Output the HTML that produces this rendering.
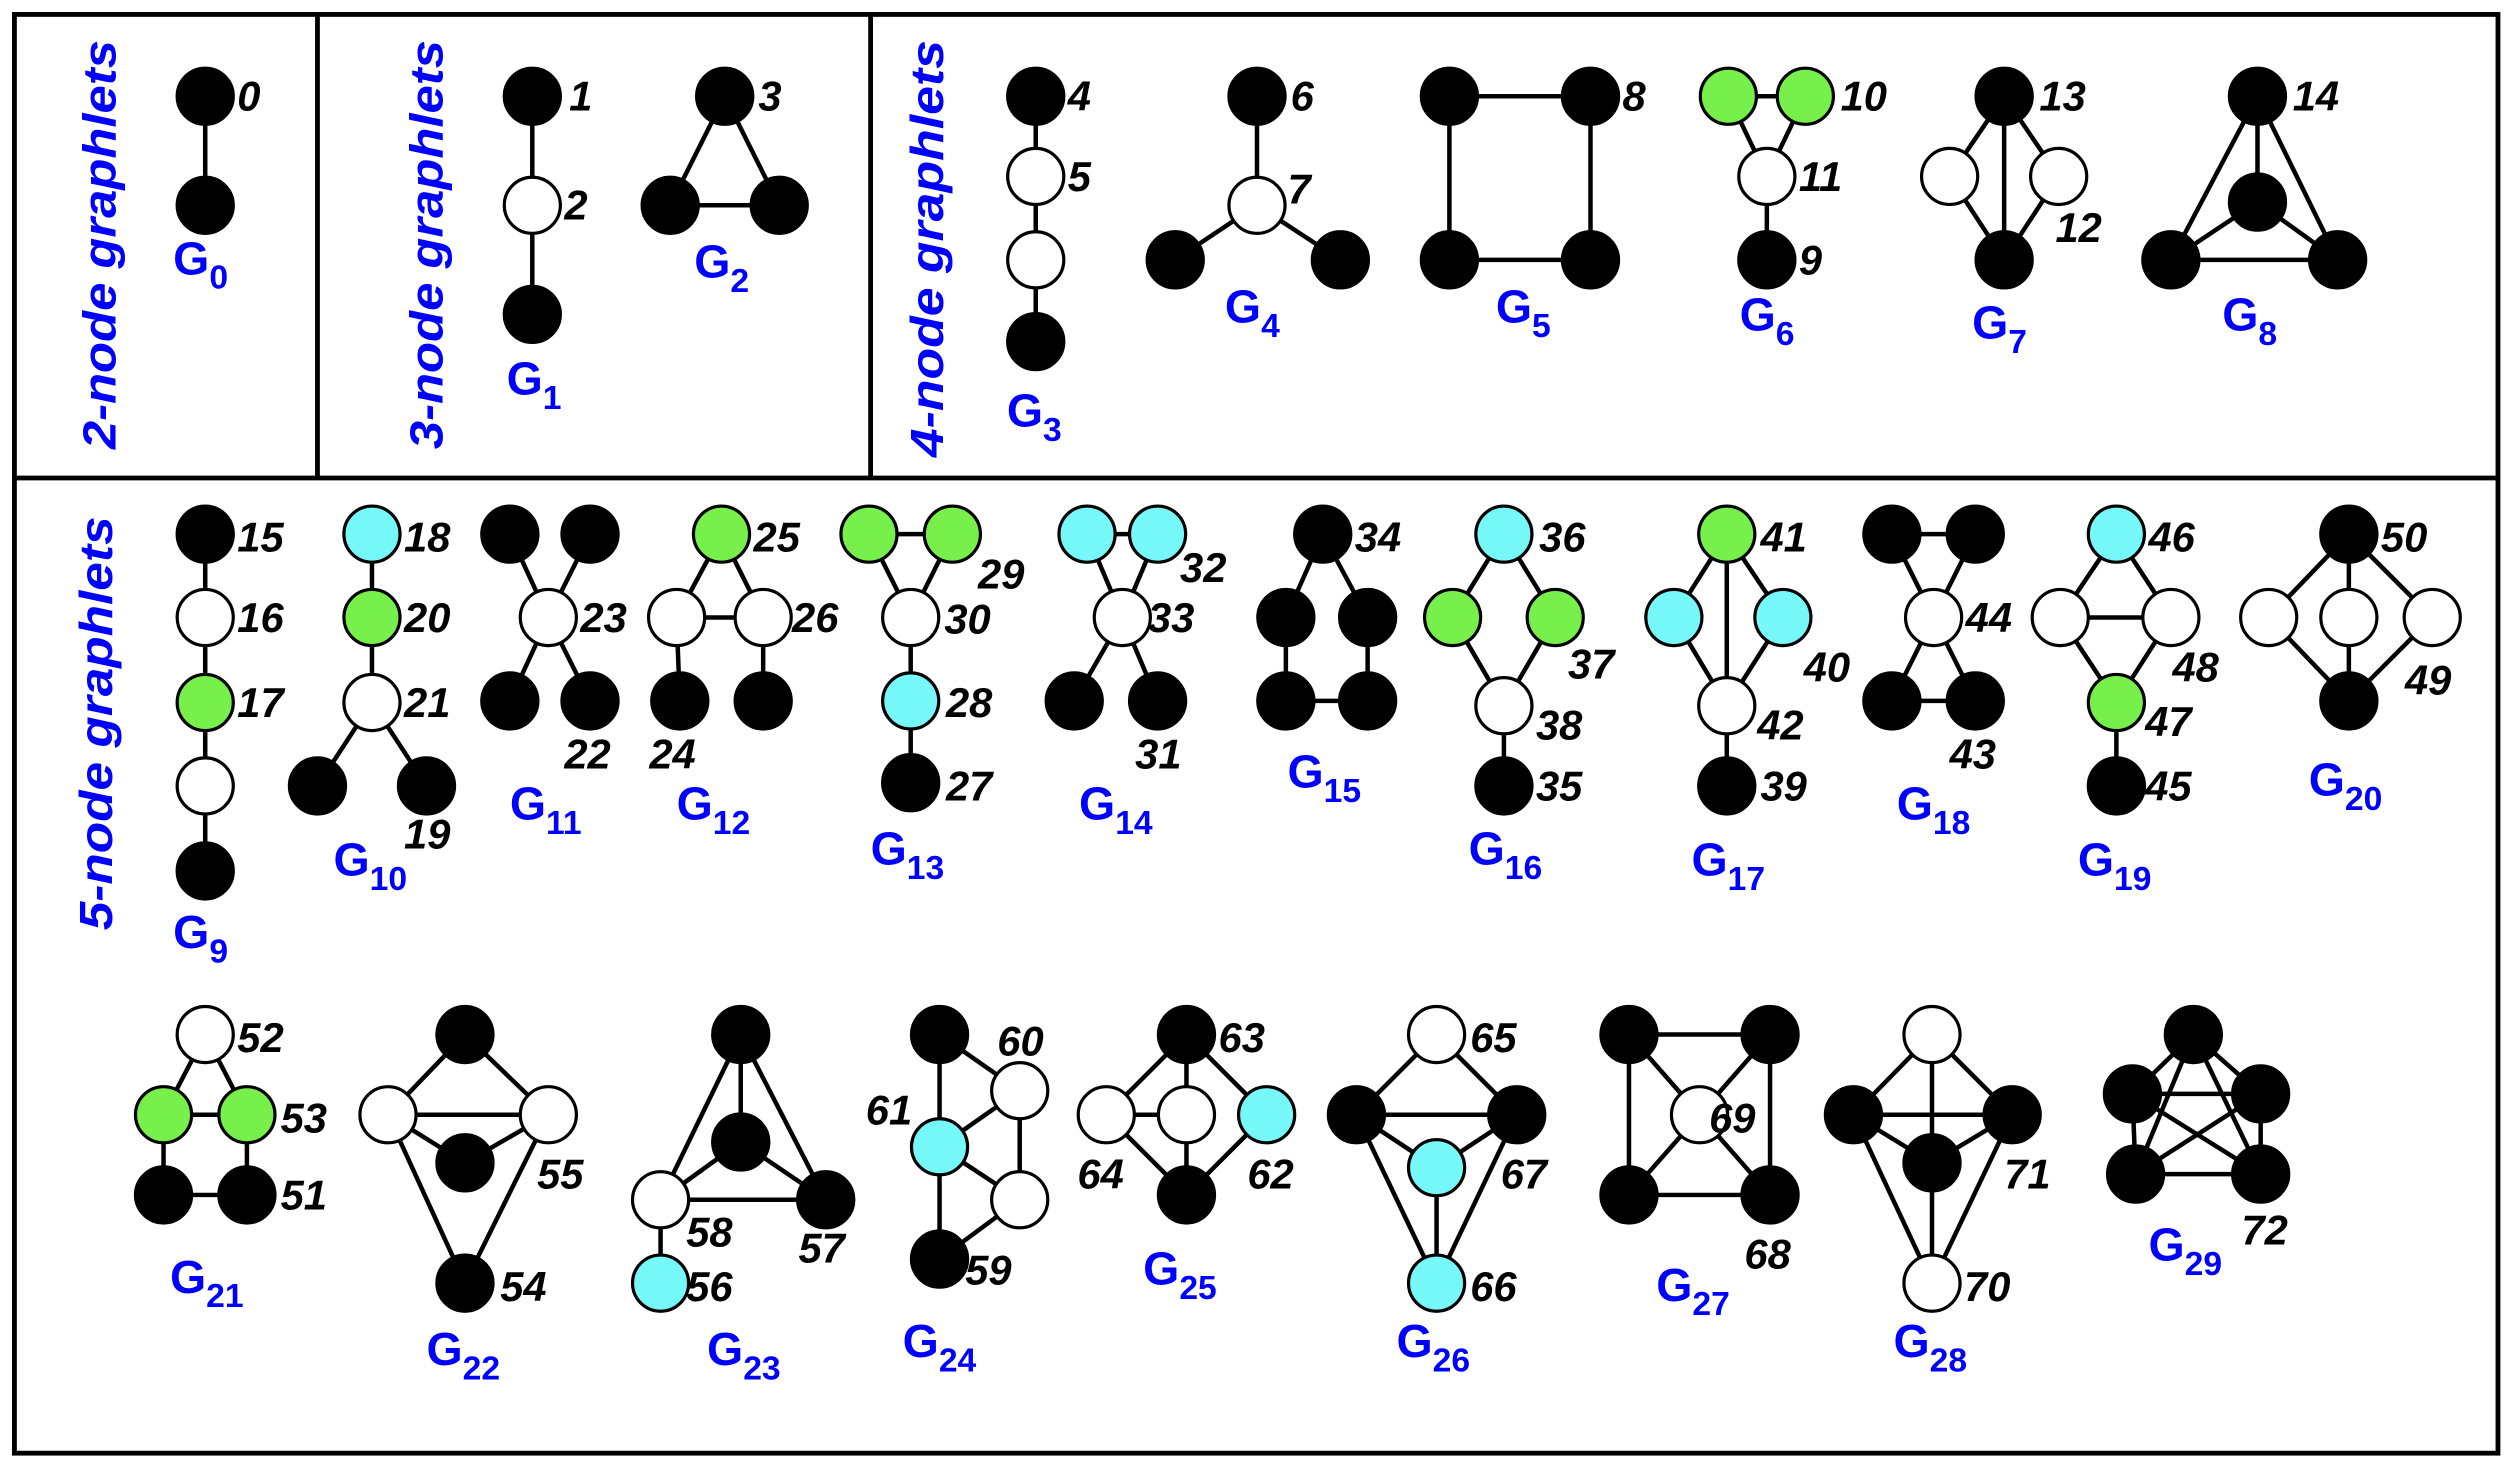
<!DOCTYPE html>
<html><head><meta charset="utf-8">
<style>
html,body{margin:0;padding:0;background:#fff;}
svg{display:block;}
.lbl{font-family:"Liberation Sans",sans-serif;font-weight:bold;font-style:italic;font-size:26px;fill:#000;}
.gl{font-family:"Liberation Sans",sans-serif;font-weight:bold;font-size:29px;fill:#0000ff;}
.sec{font-family:"Liberation Sans",sans-serif;font-weight:bold;font-style:italic;font-size:29px;fill:#0000ff;}
</style></head>
<body>
<svg id="fig" width="2514" height="1466" viewBox="0 0 1568 914" preserveAspectRatio="none" xmlns="http://www.w3.org/2000/svg">
<rect x="9" y="9" width="1549" height="897" fill="none" stroke="#000" stroke-width="3"/>
<line x1="9" y1="298" x2="1558" y2="298" stroke="#000" stroke-width="3"/>
<line x1="198" y1="9" x2="198" y2="298" stroke="#000" stroke-width="3"/>
<line x1="543" y1="9" x2="543" y2="298" stroke="#000" stroke-width="3"/>
<text class="sec" transform="translate(72,280) rotate(-90)" textLength="255" lengthAdjust="spacingAndGlyphs">2-node graphlets</text>
<text class="sec" transform="translate(276,280) rotate(-90)" textLength="255" lengthAdjust="spacingAndGlyphs">3-node graphlets</text>
<text class="sec" transform="translate(588,285) rotate(-90)" textLength="260" lengthAdjust="spacingAndGlyphs">4-node graphlets</text>
<text class="sec" transform="translate(70,580) rotate(-90)" textLength="258" lengthAdjust="spacingAndGlyphs">5-node graphlets</text>
<g id="graphs"></g>
</svg>
<script>
// node: [x, y, color]  k=black w=white g=green c=cyan
const graphletNodes = [
 [[128,60,'k'],[128,128,'k']],
 [[332,60,'k'],[332,128,'w'],[332,196,'k']],
 [[452,60,'k'],[418,128,'k'],[486,128,'k']],
 [[646,60,'k'],[646,110,'w'],[646,162,'w'],[646,213,'k']],
 [[784,60,'k'],[784,128,'w'],[733,162,'k'],[836,162,'k']],
 [[904,60,'k'],[992,60,'k'],[992,162,'k'],[904,162,'k']],
 [[1078,60,'g'],[1126,60,'g'],[1102,110,'w'],[1102,162,'k']],
 [[1250,60,'k'],[1216,110,'w'],[1284,110,'w'],[1250,162,'k']],
 [[1408,60,'k'],[1408,126,'k'],[1354,162,'k'],[1458,162,'k']],
 [[128,333,'k'],[128,385,'w'],[128,438,'g'],[128,490,'w'],[128,543,'k']],
 [[232,333,'c'],[232,385,'g'],[232,438,'w'],[198,490,'k'],[266,490,'k']],
 [[318,333,'k'],[368,333,'k'],[342,385,'w'],[318,437,'k'],[368,437,'k']],
 [[450,333,'g'],[422,385,'w'],[476,385,'w'],[424,437,'k'],[476,437,'k']],
 [[542,333,'g'],[594,333,'g'],[568,385,'w'],[568,437,'c'],[568,488,'k']],
 [[678,333,'c'],[722,333,'c'],[700,385,'w'],[670,437,'k'],[722,437,'k']],
 [[825,333,'k'],[802,385,'k'],[853,385,'k'],[802,437,'k'],[853,437,'k']],
 [[938,333,'c'],[906,385,'g'],[970,385,'g'],[938,440,'w'],[938,490,'k']],
 [[1077,333,'g'],[1044,385,'c'],[1112,385,'c'],[1077,440,'w'],[1077,490,'k']],
 [[1180,333,'k'],[1232,333,'k'],[1206,385,'w'],[1180,437,'k'],[1232,437,'k']],
 [[1320,333,'c'],[1285,385,'w'],[1354,385,'w'],[1320,438,'g'],[1320,490,'k']],
 [[1465,333,'k'],[1415,385,'w'],[1465,385,'w'],[1517,385,'w'],[1465,437,'k']],
 [[128,645,'w'],[102,695,'g'],[154,695,'g'],[102,745,'k'],[154,745,'k']],
 [[290,645,'k'],[242,695,'w'],[342,695,'w'],[290,725,'k'],[290,800,'k']],
 [[462,645,'k'],[462,712,'k'],[515,748,'k'],[412,748,'w'],[412,800,'c']],
 [[586,645,'k'],[636,680,'w'],[586,715,'c'],[636,748,'w'],[586,785,'k']],
 [[740,645,'k'],[690,695,'w'],[740,695,'w'],[790,695,'c'],[740,745,'k']],
 [[896,645,'w'],[846,695,'k'],[946,695,'k'],[896,728,'c'],[896,800,'c']],
 [[1016,645,'k'],[1104,645,'k'],[1060,695,'w'],[1016,745,'k'],[1104,745,'k']],
 [[1205,645,'w'],[1156,695,'k'],[1255,695,'k'],[1205,725,'k'],[1205,800,'w']],
 [[1368,645,'k'],[1330,682,'k'],[1410,682,'k'],[1332,732,'k'],[1410,732,'k']]
];
const graphletEdges = [
 [[0,1]],
 [[0,1],[1,2]],
 [[0,1],[0,2],[1,2]],
 [[0,1],[1,2],[2,3]],
 [[0,1],[1,2],[1,3]],
 [[0,1],[1,2],[2,3],[3,0]],
 [[0,1],[0,2],[1,2],[2,3]],
 [[0,1],[0,2],[0,3],[1,3],[2,3]],
 [[0,1],[0,2],[0,3],[1,2],[1,3],[2,3]],
 [[0,1],[1,2],[2,3],[3,4]],
 [[0,1],[1,2],[2,3],[2,4]],
 [[0,2],[1,2],[2,3],[2,4]],
 [[0,1],[0,2],[1,2],[1,3],[2,4]],
 [[0,1],[0,2],[1,2],[2,3],[3,4]],
 [[0,1],[0,2],[1,2],[2,3],[2,4]],
 [[0,1],[0,2],[1,3],[2,4],[3,4]],
 [[0,1],[0,2],[1,3],[2,3],[3,4]],
 [[0,1],[0,2],[0,3],[1,3],[2,3],[3,4]],
 [[0,1],[0,2],[1,2],[2,3],[2,4],[3,4]],
 [[0,1],[0,2],[1,2],[1,3],[2,3],[3,4]],
 [[0,1],[0,2],[0,3],[4,1],[4,2],[4,3]],
 [[0,1],[0,2],[1,2],[1,3],[2,4],[3,4]],
 [[0,1],[0,2],[1,2],[1,3],[2,3],[1,4],[2,4]],
 [[0,1],[0,2],[0,3],[1,2],[1,3],[2,3],[3,4]],
 [[0,1],[0,2],[1,2],[1,3],[2,3],[2,4],[3,4]],
 [[0,1],[0,2],[0,3],[1,2],[2,4],[1,4],[3,4]],
 [[0,1],[0,2],[1,2],[1,3],[2,3],[1,4],[2,4],[3,4]],
 [[0,1],[3,4],[0,3],[1,4],[2,0],[2,1],[2,3],[2,4]],
 [[0,1],[0,2],[0,3],[1,2],[1,3],[2,3],[1,4],[2,4],[3,4]],
 [[0,1],[0,2],[0,3],[0,4],[1,2],[1,3],[1,4],[2,3],[2,4],[3,4]]
];
// orbit labels: [text, x, y]
const orbitLabels = [
 ['0',148,69],['1',355,69],['2',352,137],['3',473,69],
 ['4',666,69],['5',666,119],['6',805,69],['7',803,127],['8',1012,69],
 ['10',1148,69],['11',1122,119],['9',1122,171],['13',1272,69],['12',1282,151],['14',1430,69],
 ['15',148,344],['16',148,394],['17',148,447],
 ['18',252,344],['20',252,394],['21',252,447],['19',252,529],
 ['23',362,394],['22',352,479],
 ['25',470,344],['26',494,394],['24',405,479],
 ['29',610,367],['30',589,395],['28',590,447],['27',590,499],
 ['32',736,363],['33',716,394],['31',708,479],
 ['34',845,344],
 ['36',960,344],['37',978,423],['38',958,461],['35',958,499],
 ['41',1098,344],['40',1125,425],['42',1096,461],['39',1098,499],
 ['44',1226,394],['43',1216,479],
 ['46',1340,344],['48',1355,425],['47',1338,459],['45',1338,499],
 ['50',1485,344],['49',1500,433],
 ['52',148,656],['53',175,706],['51',175,754],
 ['55',335,741],['54',312,811],
 ['58',428,777],['57',498,787],['56',428,811],
 ['60',622,658],['61',540,701],['59',602,801],
 ['63',760,656],['64',672,741],['62',778,741],
 ['65',917,656],['67',936,741],['66',917,811],
 ['69',1066,706],['68',1088,791],
 ['71',1250,741],['70',1225,811],
 ['72',1398,776]
];
// graphlet name positions [x, y]
const graphletNamePos = [
 [108,171],[316,246],[433,173],[628,266],[764,201],[933,201],[1085,206],[1230,211],[1386,206],
 [108,591],[208,546],[318,511],[422,511],[543,539],[673,511],[803,491],[916,539],[1055,546],[1183,511],[1296,546],[1440,496],
 [106,806],[266,851],[441,851],[563,846],[713,801],[871,846],[1033,811],[1181,846],[1340,786]
];
const fillColors = {k:'#000', w:'#fff', g:'#77f04c', c:'#77f8f8'};
const NS = 'http://www.w3.org/2000/svg';
const root = document.getElementById('graphs');
graphletNodes.forEach((nodes, gi) => {
  const g = document.createElementNS(NS, 'g');
  
  
  graphletEdges[gi].forEach(e => {
    const a = nodes[e[0]], b = nodes[e[1]];
    const l = document.createElementNS(NS, 'line');
    
    
    l.setAttribute('x1', a[0]); l.setAttribute('y1', a[1]);
    l.setAttribute('x2', b[0]); l.setAttribute('y2', b[1]);
    l.setAttribute('stroke', '#000'); l.setAttribute('stroke-width', '2.8');
    g.appendChild(l);
  });
  nodes.forEach(n => {
    const c = document.createElementNS(NS, 'circle');
    
    
    c.setAttribute('cx', n[0]); c.setAttribute('cy', n[1]); c.setAttribute('r', 17.5);
    c.setAttribute('fill', fillColors[n[2]]);
    c.setAttribute('stroke', '#000'); c.setAttribute('stroke-width', '2');
    g.appendChild(c);
  });
  const p = graphletNamePos[gi];
  const t = document.createElementNS(NS, 'text');
  
  
  t.setAttribute('class', 'gl');
  t.setAttribute('x', p[0]); t.setAttribute('y', p[1]);
  t.textContent = 'G';
  const s = document.createElementNS(NS, 'tspan');
  
  
  s.setAttribute('dy', '9'); s.setAttribute('font-size', '21');
  s.textContent = String(gi);
  t.appendChild(s);
  g.appendChild(t);
  root.appendChild(g);
});
orbitLabels.forEach(o => {
  const t = document.createElementNS(NS, 'text');
  
  
  t.setAttribute('class', 'lbl');
  t.setAttribute('x', o[1]); t.setAttribute('y', o[2]);
  t.textContent = o[0];
  root.appendChild(t);
});
</script>
</body></html>
